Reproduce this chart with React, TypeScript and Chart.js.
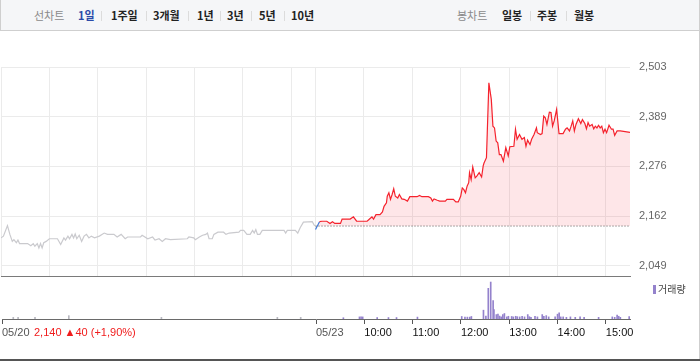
import React, { useEffect, useRef } from "react";
import { Chart, registerables } from "chart.js";

Chart.register(...registerables);

const PREV_CLOSE = 2140;
const DAY_MINUTES = 390;

// 05/20 session, minutes after 09:00
const prevTimes = [
  0, 3, 8, 11, 14, 16, 19, 21, 23, 33, 37, 40, 42, 45, 47, 49, 51, 53, 56, 60,
  70, 74, 78, 80, 83, 85, 88, 90, 92, 94, 97, 100, 103, 106, 109, 112, 116, 122, 128, 132,
  140, 144, 149, 154, 157, 173, 175, 182, 188, 191, 196, 200, 204, 210, 231, 233, 239, 241, 246, 250,
  254, 256, 258, 262, 264, 269, 276, 279, 283, 295, 297, 301, 305, 309, 312, 314, 316, 318, 321, 324,
  351, 353, 355, 365, 368, 371, 375, 386, 389,
];
const prevPrices = [
  2113, 2117, 2141, 2121, 2105, 2109, 2102, 2108, 2100, 2100, 2095, 2100, 2094, 2100, 2090, 2100, 2090, 2102, 2105, 2111,
  2111, 2098, 2113, 2108, 2117, 2111, 2121, 2113, 2122, 2111, 2119, 2105, 2117, 2121, 2113, 2117, 2113, 2117, 2124, 2121,
  2121, 2115, 2121, 2111, 2115, 2115, 2119, 2111, 2115, 2108, 2111, 2105, 2111, 2109, 2111, 2115, 2113, 2109, 2115, 2119,
  2121, 2124, 2111, 2111, 2121, 2126, 2126, 2121, 2124, 2126, 2130, 2130, 2121, 2121, 2130, 2124, 2132, 2121, 2121, 2130,
  2130, 2124, 2130, 2130, 2124, 2136, 2149, 2150, 2140,
];

// 05/23 session, minutes after 09:00
const todayTimes = [
  0, 5, 8, 14, 18, 21, 24, 31, 33, 43, 47, 51, 64, 67, 70, 72, 75, 80, 83, 85,
  88, 89, 91, 93, 95, 97, 99, 102, 104, 107, 110, 114, 117, 126, 129, 132, 140, 143, 145, 147,
  151, 154, 161, 163, 171, 174, 177, 180, 182, 184, 186, 188, 190, 191, 193, 195, 198, 200, 203, 206,
  208, 209, 212, 213, 215, 218, 220, 222, 224, 226, 228, 230, 233, 236, 239, 241, 246, 248, 250, 253,
  256, 259, 261, 263, 266, 268, 271, 274, 275, 279, 281, 283, 285, 287, 290, 292, 294, 296, 299, 302,
  307, 310, 312, 315, 317, 319, 321, 323, 326, 329, 331, 334, 336, 338, 340, 343, 345, 347, 349, 351,
  353, 355, 357, 359, 361, 364, 367, 369, 371, 374, 378, 390,
];
const todayPrices = [
  2132, 2150, 2151, 2151, 2146, 2150, 2146, 2146, 2156, 2156, 2161, 2151, 2151, 2156, 2161, 2156, 2166, 2166, 2172, 2185,
  2193, 2208, 2216, 2201, 2212, 2225, 2208, 2204, 2212, 2202, 2201, 2197, 2207, 2207, 2210, 2207, 2207, 2204, 2197, 2202,
  2199, 2197, 2197, 2201, 2201, 2195, 2195, 2208, 2227, 2223, 2216, 2231, 2239, 2262, 2246, 2275, 2250, 2254, 2262, 2252,
  2278, 2284, 2296, 2353, 2467, 2429, 2368, 2364, 2334, 2330, 2303, 2303, 2288, 2319, 2300, 2321, 2322, 2361, 2338, 2349,
  2338, 2342, 2322, 2336, 2326, 2338, 2349, 2364, 2353, 2349, 2351, 2391, 2387, 2372, 2400, 2399, 2368, 2380, 2406, 2351,
  2351, 2361, 2364, 2357, 2368, 2380, 2357, 2372, 2385, 2374, 2383, 2374, 2362, 2376, 2368, 2372, 2362, 2368, 2364, 2370,
  2364, 2368, 2353, 2361, 2353, 2370, 2361, 2361, 2347, 2357, 2357, 2354,
];

const prevVolTimes = [14, 20, 41, 83, 198, 342, 371];
const prevVolumes = [40, 40, 40, 80, 40, 40, 40];

const volTimes = [
  34, 54, 56, 58, 76, 90, 100, 126, 181, 185, 188, 191, 193, 208, 211, 214, 217, 220, 221, 224,
  226, 228, 230, 232, 234, 237, 239, 243, 245, 248, 250, 253, 256, 259, 263, 265, 267, 272, 275, 281,
  283, 286, 289, 297, 300, 302, 304, 307, 311, 316, 322, 328, 333, 351, 368, 371, 374, 376, 378, 389,
];
const volumes = [
  30, 50, 50, 50, 35, 35, 35, 45, 60, 45, 45, 45, 60, 210, 70, 730, 880, 440, 225, 105,
  120, 70, 50, 105, 130, 50, 65, 60, 50, 65, 55, 50, 65, 50, 105, 55, 40, 65, 50, 105,
  65, 80, 50, 50, 115, 145, 50, 50, 40, 50, 40, 50, 40, 40, 50, 40, 95, 65, 40, 60,
];

const yTicks = [2049, 2162, 2276, 2389, 2503];
const gridTimes = [0, 60, 120, 180, 240, 300, 360, 390, 450, 510, 570, 630, 690, 750];
const axisTimes = [0, 390, 450, 510, 570, 630, 690, 750];
const axisLabels = ["05/20", "05/23", "10:00", "11:00", "12:00", "13:00", "14:00", "15:00"];

const periodTabs = [
  { label: "1일", left: 77, active: true },
  { label: "1주일", left: 110 },
  { label: "3개월", left: 152 },
  { label: "1년", left: 196 },
  { label: "3년", left: 226 },
  { label: "5년", left: 258 },
  { label: "10년", left: 290 },
];
const leftSeps = [100, 145, 187, 219, 250, 283];
const candleTabs = [
  { label: "일봉", left: 501 },
  { label: "주봉", left: 536 },
  { label: "월봉", left: 573 },
];
const rightSeps = [529, 565];

const RED = "#f5222d";
const BLUE = "#3f7ad9";
const KFONT = "'Noto Sans CJK KR', 'Noto Sans', sans-serif";

export default function App() {
  const priceRef = useRef<HTMLCanvasElement>(null);
  const volRef = useRef<HTMLCanvasElement>(null);

  useEffect(() => {
    Chart.defaults.font.family = "'Liberation Sans', Arial, sans-serif";

    const prevData = prevTimes.map((t, i) => ({ x: t, y: prevPrices[i] }));
    const todayData = todayTimes.map((t, i) => ({ x: t + DAY_MINUTES, y: todayPrices[i] }));
    const baseData = [
      { x: DAY_MINUTES, y: PREV_CLOSE },
      { x: DAY_MINUTES * 2, y: PREV_CLOSE },
    ];

    const price = new Chart(priceRef.current!, {
      type: "line",
      data: {
        datasets: [
          {
            data: baseData,
            borderColor: "#555",
            borderWidth: 1,
            borderDash: [1, 2],
            pointRadius: 0,
            fill: false,
          },
          {
            data: todayData,
            borderColor: RED,
            borderWidth: 1.2,
            pointRadius: 0,
            tension: 0,
            segment: {
              borderColor: (c: any) => (c.p0.parsed.y < PREV_CLOSE ? BLUE : RED),
            },
            fill: {
              value: PREV_CLOSE,
              above: "rgba(245,60,75,0.13)",
              below: "rgba(63,122,217,0.15)",
            },
          },
          {
            data: prevData,
            borderColor: "#cacace",
            borderWidth: 1.2,
            pointRadius: 0,
            tension: 0,
            fill: false,
          },
        ],
      },
      options: {
        responsive: false,
        animation: false,
        devicePixelRatio: 1,
        layout: { padding: { top: 36, bottom: 20, left: 1, right: 0 } },
        plugins: { legend: { display: false }, tooltip: { enabled: false } },
        scales: {
          x: {
            type: "linear",
            min: 0,
            max: DAY_MINUTES * 2,
            afterBuildTicks: (s: any) => {
              s.ticks = gridTimes.map((v) => ({ value: v }));
            },
            afterFit: (s: any) => {
              s.height = 0;
            },
            ticks: { display: false },
            grid: { color: "#ebebeb", drawTicks: false },
            border: { color: "#7a7a7a" },
          },
          y: {
            position: "right",
            min: 2026,
            max: 2503,
            afterBuildTicks: (s: any) => {
              s.ticks = yTicks.map((v) => ({ value: v }));
            },
            afterFit: (s: any) => {
              s.width = 69;
            },
            ticks: {
              color: "#666",
              font: { size: 11 },
              padding: 9,
              callback: (v: any) => Number(v).toLocaleString("en-US"),
            },
            grid: { color: "#ebebeb", drawTicks: false },
            border: { display: false },
          },
        },
      },
    } as any);

    const vol = new Chart(volRef.current!, {
      type: "bar",
      data: {
        datasets: [
          {
            data: prevVolTimes.map((t, i) => ({ x: t, y: prevVolumes[i] })),
            backgroundColor: "#b8b8c0",
            barThickness: 1,
            grouped: false,
          },
          {
            data: volTimes.map((t, i) => ({ x: t + DAY_MINUTES, y: volumes[i] })),
            backgroundColor: "#9482cc",
            barThickness: 1,
            grouped: false,
          },
        ],
      },
      options: {
        responsive: false,
        animation: false,
        devicePixelRatio: 1,
        layout: { padding: { top: 0, bottom: 0, left: 1, right: 69 } },
        plugins: { legend: { display: false }, tooltip: { enabled: false } },
        scales: {
          x: {
            type: "linear",
            min: 0,
            max: DAY_MINUTES * 2,
            offset: false,
            afterBuildTicks: (s: any) => {
              s.ticks = axisTimes.map((v) => ({ value: v }));
            },
            afterFit: (s: any) => {
              s.height = 26;
            },
            ticks: {
              align: "start",
              autoSkip: false,
              maxRotation: 0,
              padding: 2,
              font: { size: 11 },
              color: (ctx: any) => (ctx.index < 2 ? "#555" : "#111"),
              callback: (v: any) => axisLabels[axisTimes.indexOf(Number(v))] ?? "",
            },
            grid: { drawOnChartArea: false, drawTicks: true, tickLength: 5, color: "#555", offset: false },
            border: { color: "#6a6a6a" },
          },
          y: { display: false, min: 0, max: 1000 },
        },
      },
    } as any);

    return () => {
      price.destroy();
      vol.destroy();
    };
  }, []);

  const tabStyle = (left: number, color: string, bold: boolean): React.CSSProperties => ({
    position: "absolute",
    left,
    top: 1,
    lineHeight: "29px",
    fontSize: 11,
    fontWeight: bold ? 700 : 400,
    color,
    fontFamily: KFONT,
    whiteSpace: "nowrap",
  });

  return (
    <div
      style={{
        position: "absolute",
        left: 0,
        top: 0,
        width: 700,
        height: 362,
        background: "#fff",
        overflow: "hidden",
        fontFamily: "'Liberation Sans', Arial, sans-serif",
      }}
    >
      {/* header */}
      <div
        style={{
          position: "absolute",
          left: 0,
          top: 0,
          width: 698,
          height: 30,
          background: "#f5f6f8",
          borderLeft: "1px solid #cfcfcf",
          borderRight: "1px solid #cfcfcf",
          borderBottom: "1px solid #cfcfcf",
        }}
      >
        <span style={tabStyle(33, "#8a8a8a", false)}>선차트</span>
        {periodTabs.map((t) => (
          <span key={t.label} style={tabStyle(t.left, t.active ? "#2b4aa8" : "#222", true)}>
            {t.label}
          </span>
        ))}
        {leftSeps.map((x) => (
          <div key={x} style={{ position: "absolute", left: x, top: 11, width: 1, height: 10, background: "#dcdcdc" }} />
        ))}
        <span style={tabStyle(456, "#8a8a8a", false)}>봉차트</span>
        {candleTabs.map((t) => (
          <span key={t.label} style={tabStyle(t.left, "#222", true)}>
            {t.label}
          </span>
        ))}
        {rightSeps.map((x) => (
          <div key={x} style={{ position: "absolute", left: x, top: 11, width: 1, height: 10, background: "#dcdcdc" }} />
        ))}
      </div>

      <canvas
        ref={priceRef}
        width={699}
        height={265}
        style={{ position: "absolute", left: 0, top: 31, width: 699, height: 265, display: "block" }}
      />
      <canvas
        ref={volRef}
        width={699}
        height={68}
        style={{ position: "absolute", left: 0, top: 277, width: 699, height: 68, display: "block" }}
      />

      {/* volume legend */}
      <div style={{ position: "absolute", left: 653, top: 285, width: 3, height: 9, background: "#9482cc" }} />
      <span
        style={{
          position: "absolute",
          left: 658,
          top: 282,
          fontSize: 10,
          lineHeight: "14px",
          color: "#444",
          fontFamily: KFONT,
        }}
      >
        거래량
      </span>

      {/* previous close summary */}
      <span
        style={{
          position: "absolute",
          left: 34,
          top: 325,
          fontSize: 11,
          lineHeight: "14px",
          color: "#f01c1c",
          whiteSpace: "pre",
        }}
      >
        2,140 ▲40 (+1,90%)
      </span>

      {/* right border */}
      <div style={{ position: "absolute", left: 699, top: 0, width: 1, height: 360, background: "#cfcfcf" }} />
      {/* bottom rule */}
      <div style={{ position: "absolute", left: 0, top: 359, width: 700, height: 2, background: "#555" }} />
    </div>
  );
}
